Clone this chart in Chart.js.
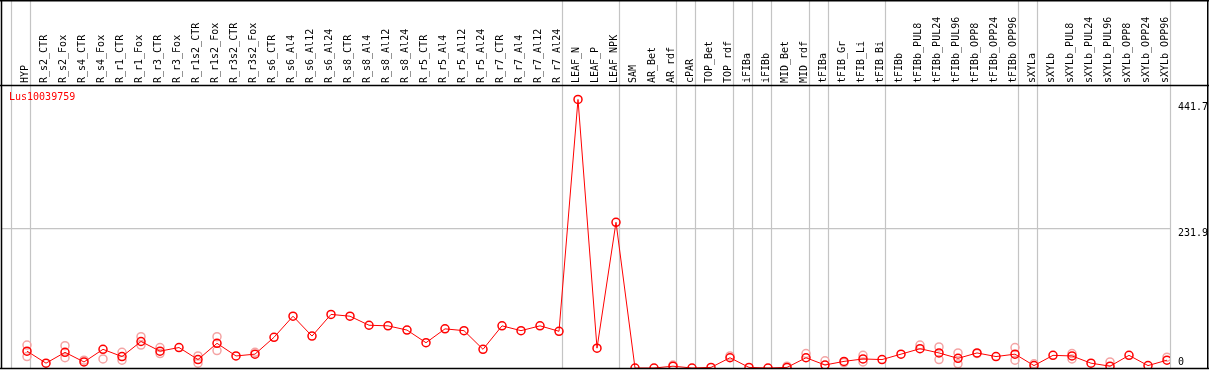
<!DOCTYPE html>
<html>
<head>
<meta charset="utf-8">
<title>Lus10039759</title>
<script src="https://cdn.jsdelivr.net/npm/chart.js@4/dist/chart.umd.min.js"></script>
<style>
  html, body { margin: 0; padding: 0; background: #fff; }
  #wrap { width: 1209px; height: 370px; }
</style>
</head>
<body>
<div id="wrap"><canvas id="chart" width="1209" height="370"></canvas></div>
<script>
// gene + sample names
var geneName = 'Lus10039759';
var samples = ['HYP',
  'R_s2_CTR', 'R_s2_Fox', 'R_s4_CTR', 'R_s4_Fox', 'R_r1_CTR', 'R_r1_Fox', 'R_r3_CTR', 'R_r3_Fox',
  'R_r1s2_CTR', 'R_r1s2_Fox', 'R_r3s2_CTR', 'R_r3s2_Fox',
  'R_s6_CTR', 'R_s6_Al4', 'R_s6_Al12', 'R_s6_Al24', 'R_s8_CTR', 'R_s8_Al4', 'R_s8_Al12', 'R_s8_Al24',
  'R_r5_CTR', 'R_r5_Al4', 'R_r5_Al12', 'R_r5_Al24', 'R_r7_CTR', 'R_r7_Al4', 'R_r7_Al12', 'R_r7_Al24',
  'LEAF_N', 'LEAF_P', 'LEAF_NPK', 'SAM', 'AR_Bet', 'AR_rdf', 'cPAR', 'TOP_Bet', 'TOP_rdf',
  'iFIBa', 'iFIBb', 'MID_Bet', 'MID_rdf', 'tFIBa', 'tFIB_Gr', 'tFIB_Li', 'tFIB_Bi',
  'tFIBb', 'tFIBb_PUL8', 'tFIBb_PUL24', 'tFIBb_PUL96', 'tFIBb_OPP8', 'tFIBb_OPP24', 'tFIBb_OPP96',
  'sXYLa', 'sXYLb', 'sXYLb_PUL8', 'sXYLb_PUL24', 'sXYLb_PUL96', 'sXYLb_OPP8', 'sXYLb_OPP24', 'sXYLb_OPP96'];

// mean expression per sample
var means = [28,
  8, 26, 10, 31, 19, 44, 28, 34,
  14, 41, 20, 23,
  51, 86, 53, 89, 86, 71, 70, 63,
  42, 65, 62, 31, 70, 62, 70, 61,
  446, 33, 242, 0, 0, 3, 0, 1, 17,
  1, 0, 1, 17, 5, 11, 15, 14,
  23, 32, 25, 16, 25, 19, 23,
  4, 21, 20, 8, 3, 21, 4, 13];

// single replicates (null = hidden behind the mean)
var repHigh = [38,
  null, 37, 13, null, 26, 52, 34, null,
  20, 52, null, 26,
  null, null, null, null, null, null, null, null,
  null, null, null, null, null, null, null, null,
  null, null, null, null, null, 5, null, null, 20,
  null, null, 3, 24, 12, 9, 21, null,
  null, 38, 35, 25, 24, null, 34,
  7, null, 24, null, 10, null, null, 18];
var repLow = [19,
  null, 17, null, 15, 13, 38, 24, null,
  8, 29, null, null,
  null, null, null, null, null, null, null, null,
  null, null, null, null, null, null, null, null,
  null, null, null, null, null, null, null, null, null,
  null, null, null, null, null, null, 10, null,
  null, null, 14, 7, null, null, 13,
  null, null, 15, null, null, null, null, null];

// first sample of each group (last = end)
var groupStarts = [0, 1, 29, 32, 35, 36, 38, 39, 40, 42, 43, 46, 53, 54, 61];
var yTicks = [0, 231.9, 441.7];

function pts(arr) {
  var out = [];
  for (var i = 0; i < arr.length; i++) {
    if (arr[i] != null) out.push({ x: i, y: arr[i] });
  }
  return out;
}

var monoFont = '10px "DejaVu Sans Mono", monospace';

// separators, frame, title and y labels
var framePlugin = {
  id: 'frame',
  beforeDatasetsDraw: function(chart) {
    var ctx = chart.ctx, xs = chart.scales.x, a = chart.chartArea;
    ctx.save();
    ctx.strokeStyle = '#c4c4c4';
    ctx.lineWidth = 1.2;
    groupStarts.forEach(function(k) {
      var px = Math.round(xs.getPixelForValue(k - 16 / 19)) + 0.5;
      ctx.beginPath();
      ctx.moveTo(px, 0);
      ctx.lineTo(px, a.bottom);
      ctx.stroke();
    });
    ctx.restore();
  },
  afterDraw: function(chart) {
    var ctx = chart.ctx, ys = chart.scales.y, a = chart.chartArea;
    var W = chart.width;
    ctx.save();
    ctx.strokeStyle = '#000';
    ctx.lineWidth = 1.5;
    ctx.beginPath();
    ctx.moveTo(0, 0.75); ctx.lineTo(W, 0.75);
    ctx.moveTo(1.5, 0); ctx.lineTo(1.5, a.bottom + 0.75);
    ctx.moveTo(W - 1.25, 0); ctx.lineTo(W - 1.25, a.bottom + 0.75);
    ctx.moveTo(0, a.top + 0.5); ctx.lineTo(W, a.top + 0.5);
    ctx.moveTo(0, a.bottom + 0.5); ctx.lineTo(W, a.bottom + 0.5);
    ctx.stroke();

    ctx.font = monoFont;
    ctx.fillStyle = '#ff0000';
    ctx.textAlign = 'left';
    ctx.textBaseline = 'middle';
    ctx.fillText(geneName, 9, 97);

    ctx.fillStyle = '#000';
    yTicks.forEach(function(t) {
      var py = ys.getPixelForValue(t);
      ctx.fillText(String(t), a.right + 8, t === 0 ? py - 6 : py + 5);
    });
    ctx.restore();
  }
};

new Chart(document.getElementById('chart'), {
  type: 'line',
  data: {
    datasets: [
      {
        label: geneName,
        data: pts(means),
        order: 0,
        borderColor: '#ff0000',
        borderWidth: 1,
        pointRadius: 4,
        pointBorderWidth: 1.5,
        pointBorderColor: '#ff0000',
        pointBackgroundColor: 'rgba(0,0,0,0)',
        tension: 0,
        clip: 0
      },
      {
        label: 'rep1',
        data: pts(repHigh),
        order: 1,
        showLine: false,
        pointRadius: 4,
        pointBorderWidth: 1.5,
        pointBorderColor: '#f4a4a4',
        pointBackgroundColor: 'rgba(0,0,0,0)',
        clip: 0
      },
      {
        label: 'rep2',
        data: pts(repLow),
        order: 1,
        showLine: false,
        pointRadius: 4,
        pointBorderWidth: 1.5,
        pointBorderColor: '#f4a4a4',
        pointBackgroundColor: 'rgba(0,0,0,0)',
        clip: 0
      }
    ]
  },
  options: {
    responsive: false,
    devicePixelRatio: 1,
    animation: false,
    layout: { autoPadding: false, padding: { left: 1, right: 1, top: 0, bottom: 2 } },
    plugins: { legend: { display: false }, tooltip: { enabled: false } },
    scales: {
      x: {
        type: 'linear',
        position: 'top',
        min: -26 / 19,
        max: (1170 - 27) / 19,
        grid: { display: false, drawTicks: false },
        border: { display: false },
        afterBuildTicks: function(s) {
          s.ticks = samples.map(function(_, i) { return { value: i }; });
        },
        afterFit: function(s) { s.height = 85; s.paddingLeft = 0; s.paddingRight = 0; },
        ticks: {
          autoSkip: false,
          minRotation: 90,
          maxRotation: 90,
          padding: 2,
          labelOffset: 10,
          color: '#000',
          font: { family: 'DejaVu Sans Mono', size: 10 },
          callback: function(v) { return samples[Math.round(v)]; }
        }
      },
      y: {
        type: 'linear',
        position: 'right',
        min: 0,
        max: 470,
        border: { display: false },
        afterBuildTicks: function(s) {
          s.ticks = yTicks.map(function(t) { return { value: t }; });
        },
        afterFit: function(s) { s.width = 38; },
        grid: {
          drawTicks: false,
          lineWidth: 1.2,
          color: function(c) { return c.tick && c.tick.value === 231.9 ? '#c4c4c4' : 'rgba(0,0,0,0)'; }
        },
        ticks: { display: false }
      }
    }
  },
  plugins: [framePlugin]
});
</script>
</body>
</html>
